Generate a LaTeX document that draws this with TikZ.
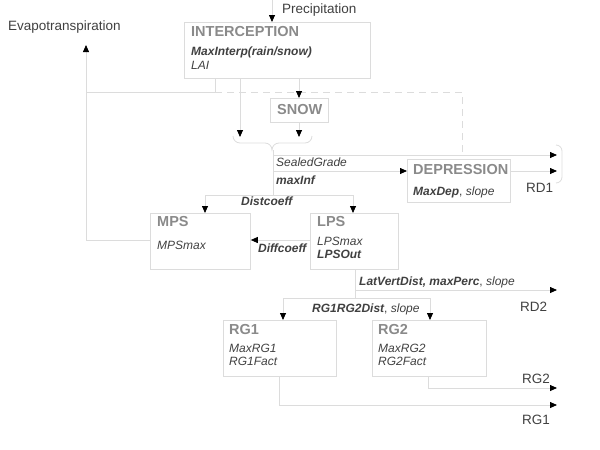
\documentclass[tikz,border=0pt]{standalone}
\usepackage{fontspec}
\setmainfont{Liberation Sans}
\usetikzlibrary{arrows.meta}
\definecolor{lgray}{HTML}{DCDCDC}
\definecolor{tgray}{HTML}{8A8A8A}
\definecolor{dtext}{HTML}{404040}
\tikzset{
	box/.style={draw=lgray, line width=0.8pt, anchor=north west, inner sep=0pt},
	ttl/.style={anchor=west, inner sep=0pt, text=tgray, font=\fontsize{14.5}{16}\selectfont\bfseries},
	prm/.style={anchor=west, inner sep=0pt, text=dtext, align=left, font=\fontsize{12}{13}\selectfont\itshape},
	lbl/.style={anchor=west, inner sep=0pt, text=dtext, font=\fontsize{13.5}{15}\selectfont},
	flow/.style={draw=lgray, line width=0.8pt},
	arr/.style={flow, -{Triangle[color=black, length=7pt, width=6pt]}},
}
\begin{document}
\begin{tikzpicture}[x=1pt, y=-1pt]
	\useasboundingbox (0,0) rectangle (600,450);
	% boxes
	\node[box, minimum width=186pt, minimum height=56pt] (icp) at (184,22) {};
	\node[box, minimum width=58pt, minimum height=24pt] (snow) at (270,98) {};
	\node[box, minimum width=103pt, minimum height=43pt] (dep) at (407,159) {};
	\node[box, minimum width=100pt, minimum height=56pt] (mps) at (150,213) {};
	\node[box, minimum width=88pt, minimum height=56pt] (lps) at (310,213) {};
	\node[box, minimum width=113pt, minimum height=56pt] (rg1) at (223,320) {};
	\node[box, minimum width=114pt, minimum height=56pt] (rg2) at (372,320) {};
	% box texts
	\node[ttl] at (191,32) {INTERCEPTION};
	\node[prm] at (191,52) {\textbf{MaxInterp(rain/snow)}};
	\node[prm] at (191,65) {LAI};
	\node[ttl] at (277,110) {SNOW};
	\node[ttl] at (413,170) {DEPRESSION};
	\node[prm] at (413,192) {\textbf{MaxDep}\upshape, \itshape slope};
	\node[ttl] at (157,222) {MPS};
	\node[prm] at (157,245) {MPSmax};
	\node[ttl] at (317,222) {LPS};
	\node[prm] at (317,241) {LPSmax};
	\node[prm] at (317,254) {\textbf{LPSOut}};
	\node[ttl] at (229,330) {RG1};
	\node[prm] at (229,348) {MaxRG1};
	\node[prm] at (229,361) {RG1Fact};
	\node[ttl] at (378,330) {RG2};
	\node[prm] at (378,348) {MaxRG2};
	\node[prm] at (378,361) {RG2Fact};
	% free ends
	\coordinate (pin) at (272,0);
	\coordinate (evap) at (86,45);
	\coordinate (rd1a) at (557,155);
	\coordinate (rd1b) at (557,171);
	\coordinate (rd2) at (557,290);
	\coordinate (rg2o) at (557,388);
	\coordinate (rg1o) at (557,405);
	% labels
	\node[lbl] (prec) at (282,10) {Precipitation};
	\node[lbl] (evt) at (8,27) {Evapotranspiration};
	\node[lbl] at (526,188) {RD1};
	\node[lbl] at (520,307) {RD2};
	\node[lbl] at (522,379) {RG2};
	\node[lbl] at (522,420) {RG1};
	\node[prm] at (276,162) {SealedGrade};
	\node[prm] at (276,180) {\textbf{maxInf}};
	\node[prm] at (241,201) {\textbf{Distcoeff}};
	\node[prm] at (258,248) {\textbf{Diffcoeff}};
	\node[prm] at (359,282) {\textbf{LatVertDist, maxPerc}\upshape, \itshape slope};
	\node[prm] at (312,309) {\textbf{RG1RG2Dist}\upshape, \itshape slope};
	% connectors
	\draw[arr] (pin) -- (icp.north -| pin);
	\draw[arr] (mps.west |- 0,240) -| (evap);
	\draw[flow] (86,92) -- (215,92) -- (icp.south -| 215,0);
	\draw[flow, dashed, dash pattern=on 7pt off 5pt] (215,92) -- (462,92) -- (462,155);
	\draw[arr] (icp.south -| 240,0) -- (240,137);
	\draw[arr] (icp.south -| 299,0) -- (snow.north -| 299,0);
	\draw[arr] (snow.south -| 299,0) -- (299,137);
	\draw[flow] (233,136) to[out=-90,in=180] (240,143) -- (265,143) to[out=0,in=90] (272,150)
		to[out=90,in=180] (279,143) -- (305,143) to[out=0,in=-90] (312,136);
	\draw[flow] (273,150) -- (273,195);
	\draw[arr] (273,155) -- (rd1a);
	\draw[arr] (273,171) -- (dep.west |- 0,171);
	\draw[arr] (dep.east |- 0,171) -- (rd1b);
	\draw[flow] (556,145) to[out=0,in=90] (562,151) -- (562,177) to[out=-90,in=0] (556,183);
	\draw[arr] (273,195) -| (mps.north -| 205,0);
	\draw[arr] (273,195) -| (lps.north -| 353,0);
	\draw[arr] (lps.west |- 0,240) -- (mps.east |- 0,240);
	\draw[flow] (lps.south -| 355,0) -- (355,298);
	\draw[arr] (355,290) -- (rd2);
	\draw[arr] (355,298) -| (rg1.north -| 283,0);
	\draw[arr] (355,298) -| (rg2.north -| 430,0);
	\draw[arr] (rg2.south -| 428,0) |- (rg2o);
	\draw[arr] (rg1.south -| 279,0) |- (rg1o);
\end{tikzpicture}
\end{document}
